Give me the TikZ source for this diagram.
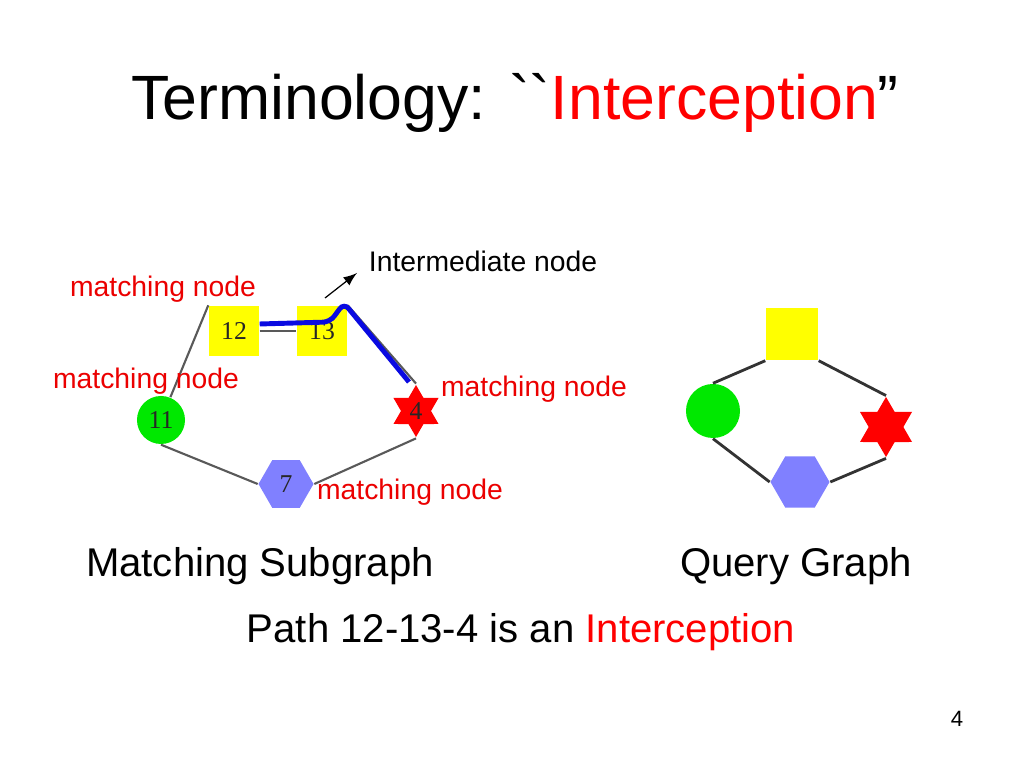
\documentclass[tikz,border=0pt]{standalone}
\usepackage{fontspec}
\setmainfont{Liberation Sans}
\newfontfamily\numfont{Liberation Serif}
\newfontfamily\plainfont{Liberation Sans}[Ligatures=TeXOff]
\usepackage{tikz}
\usetikzlibrary{shapes, shapes.geometric, arrows, calc, positioning}

\definecolor{nodeyellow}{RGB}{255,255,0}
\definecolor{nodegreen}{RGB}{0,232,0}
\definecolor{nodered}{RGB}{255,0,0}
\definecolor{nodeblue}{RGB}{128,128,255}
\definecolor{textred}{RGB}{235,0,0}
\definecolor{pathblue}{RGB}{10,10,225}

\tikzstyle{squarenode} = [
    rectangle,
    fill = nodeyellow,
    inner sep = 0pt,
    font = \numfont\fontsize{7.3}{7}\selectfont,
    text = black!85,
]
\tikzstyle{circlenode} = [
    circle,
    fill = nodegreen,
    inner sep = 0pt,
    font = \numfont\fontsize{7.3}{7}\selectfont,
    text = black!85,
]
\tikzstyle{starnode} = [
    star,
    star points = 6,
    star point ratio = 1.73,
    fill = nodered,
    inner sep = 0pt,
    font = \numfont\fontsize{7.3}{7}\selectfont,
    text = black!85,
]
\tikzstyle{hexnode} = [
    regular polygon,
    regular polygon sides = 6,
    fill = nodeblue,
    inner sep = 0pt,
    font = \numfont\fontsize{7.3}{7}\selectfont,
    text = black!85,
]
\tikzstyle{edge} = [
    draw = black!65,
    line width = 0.6pt,
]
\tikzstyle{queryedge} = [
    draw = black!80,
    line width = 0.8pt,
]
\tikzstyle{label} = [
    anchor = base,
    inner sep = 0pt,
    text = textred,
    font = \fontsize{8.05}{9}\selectfont,
]
\tikzstyle{caption} = [
    anchor = base,
    inner sep = 0pt,
    font = \fontsize{11.4}{13}\selectfont,
]

\begin{document}
\begin{tikzpicture} [x = 0.01cm, y = -0.01cm]
    \useasboundingbox (0, 0) rectangle (1024, 768);

    % title
    \node (Titre) [anchor = base, inner sep = 0pt, font = \fontsize{17.8}{20}\selectfont] at (515, 120)
        {Terminology: {\plainfont\char96\char96}\textcolor{nodered}{Interception}”};

    % matching subgraph
    \node (n12) [squarenode, minimum size = 0.5cm] at (234, 331) {12};
    \node (n13) [squarenode, minimum size = 0.5cm] at (322, 331) {13};
    \node (n11) [circlenode, minimum size = 0.48cm] at (161, 420) {11};
    \node (n4) [starnode, minimum size = 0.52cm] at (416, 411) {4};
    \node (n7) [hexnode, minimum size = 0.55cm] at (286, 484) {7};

    \draw[edge] (n11) -- (n12.north west);
    \draw[edge] (n12) -- (n13);
    \draw[edge] (n13.north east) -- (n4.north);
    \draw[edge] (n11.south) -- (n7.west);
    \draw[edge] (n7.east) -- (n4.south);

    % interception path
    \coordinate (Bout) at (409, 382);
    \draw[pathblue, line width = 1.4pt, rounded corners = 2pt]
        ($(n12.east) + (0, -7)$) -- (330, 322) -- (344, 303) -- (Bout);

    \coordinate (Fleche) at (325, 298);
    \node (Intermediaire) [anchor = base, inner sep = 0pt, font = \fontsize{8.05}{9}\selectfont] at (483, 272) {Intermediate node};
    \coordinate (Pointe) at (357, 273);
    \draw[-latex, line width = 0.35pt] (Fleche) -- (Pointe);

    \node (m12) [label] at (163, 297) {matching node};
    \node (m11) [label] at (146, 389) {matching node};
    \node (m4) [label] at (534, 397) {matching node};
    \node (m7) [label] at (410, 500) {matching node};

    % query graph
    \node (q12) [squarenode, minimum size = 0.52cm] at (792, 334) {};
    \node (q11) [circlenode, minimum size = 0.54cm] at (713, 411) {};
    \node (q4) [starnode, minimum size = 0.6cm] at (886, 427) {};
    \node (q7) [hexnode, minimum size = 0.59cm] at (800, 482) {};

    \draw[queryedge] (q12.south west) -- (q11.north);
    \draw[queryedge] (q12.south east) -- (q4.north);
    \draw[queryedge] (q11.south) -- (q7.west);
    \draw[queryedge] (q7.east) -- (q4.south);

    % captions
    \node (Sousgraphe) [caption] at (260, 577) {Matching Subgraph};
    \node (Requete) [caption] at (796, 577) {Query Graph};
    \node (Chemin) [caption] at (521, 643) {Path 12-13-4 is an \textcolor{nodered}{Interception}};
    \node (Page) [anchor = base, inner sep = 0pt, font = \fontsize{6.3}{7}\selectfont] at (957, 727) {4};
\end{tikzpicture}
\end{document}
